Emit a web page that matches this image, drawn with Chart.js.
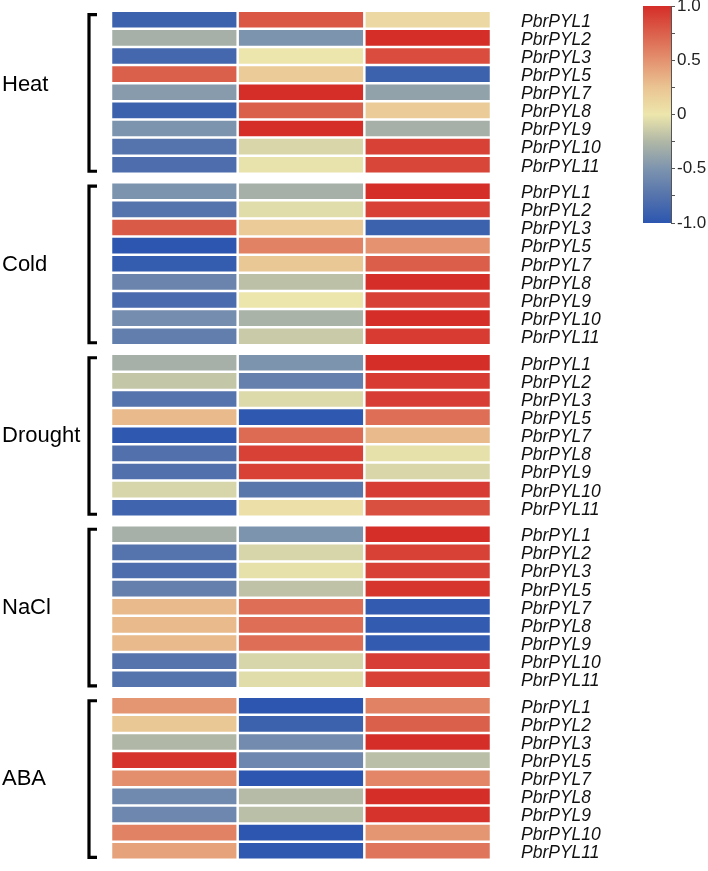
<!DOCTYPE html>
<html>
<head>
<meta charset="utf-8">
<script src="https://cdn.jsdelivr.net/npm/chart.js@4.4.1/dist/chart.umd.min.js"></script>
<style>
  html, body { margin: 0; padding: 0; background: #fff; overflow: hidden; }
  #wrap { position: relative; width: 708px; height: 871px; }
  #heatmap { position: absolute; left: 0; top: 0; }
  #colorbar { position: absolute; left: 610px; top: -14px; }
</style>
</head>
<body>
<div id="wrap">
  <canvas id="heatmap" width="708" height="871"></canvas>
  <canvas id="colorbar" width="98" height="250"></canvas>
</div>
<script>
// Treatments and genes
const groups = ['Heat', 'Cold', 'Drought', 'NaCl', 'ABA'];
const genes = ['PbrPYL1', 'PbrPYL2', 'PbrPYL3', 'PbrPYL5', 'PbrPYL7', 'PbrPYL8', 'PbrPYL9', 'PbrPYL10', 'PbrPYL11'];

// Relative expression per gene, three time points (columns) per treatment
const heatValues = [
  [-0.9, 0.8, 0.1],
  [-0.3, -0.5, 1.0],
  [-0.85, 0.0, 0.85],
  [0.75, 0.2, -0.9],
  [-0.45, 1.0, -0.4],
  [-0.9, 0.75, 0.2],
  [-0.5, 1.0, -0.3],
  [-0.75, -0.08, 0.9],
  [-0.8, -0.02, 0.88]
];
const coldValues = [
  [-0.5, -0.3, 1.0],
  [-0.75, -0.05, 0.9],
  [0.78, 0.2, -0.9],
  [-1.0, 0.58, 0.5],
  [-0.95, 0.22, 0.76],
  [-0.62, -0.2, 1.0],
  [-0.82, 0.0, 0.9],
  [-0.55, -0.28, 1.0],
  [-0.67, -0.15, 0.93]
];
const droughtValues = [
  [-0.3, -0.5, 1.0],
  [-0.17, -0.65, 0.93],
  [-0.75, -0.07, 0.92],
  [0.3, -0.98, 0.68],
  [-0.98, 0.7, 0.3],
  [-0.77, 0.9, -0.03],
  [-0.77, 0.9, -0.08],
  [-0.09, -0.72, 0.92],
  [-0.88, 0.05, 0.83]
];
const naclValues = [
  [-0.3, -0.5, 1.0],
  [-0.75, -0.09, 0.9],
  [-0.8, -0.03, 0.9],
  [-0.65, -0.19, 0.96],
  [0.3, 0.68, -0.96],
  [0.3, 0.68, -0.96],
  [0.3, 0.68, -0.96],
  [-0.74, -0.09, 0.92],
  [-0.75, -0.05, 0.9]
];
const abaValues = [
  [0.48, -1.0, 0.58],
  [0.22, -0.9, 0.75],
  [-0.25, -0.57, 1.0],
  [0.97, -0.6, -0.21],
  [0.52, -1.0, 0.56],
  [-0.58, -0.23, 1.0],
  [-0.6, -0.21, 0.97],
  [0.58, -1.0, 0.48],
  [0.42, -0.98, 0.64]
];
const groupValues = [heatValues, coldValues, droughtValues, naclValues, abaValues];

// Colour bar ticks
const cbTickValues = [-1, -0.5, 0, 0.5, 1];
const cbTickLabels = ['-1.0', '-0.5', '0', '0.5', '1.0'];

// Colour map (value -> rgb), blue - pale yellow - red
const cmap = [
  [-1.0, [44, 86, 176]],
  [-0.75, [85, 115, 172]],
  [-0.5, [125, 148, 175]],
  [-0.25, [176, 183, 166]],
  [0.0, [237, 230, 172]],
  [0.25, [234, 196, 146]],
  [0.5, [228, 146, 112]],
  [0.75, [219, 96, 76]],
  [1.0, [213, 45, 40]]
];

function colorFor(v) {
  v = Math.max(-1, Math.min(1, v));
  for (let i = 1; i < cmap.length; i++) {
    if (v <= cmap[i][0]) {
      const [v0, c0] = cmap[i - 1];
      const [v1, c1] = cmap[i];
      const t = (v - v0) / (v1 - v0);
      const c = c0.map((a, k) => Math.round(a + (c1[k] - a) * t));
      return `rgb(${c[0]}, ${c[1]}, ${c[2]})`;
    }
  }
  return 'rgb(213, 45, 40)';
}

const FONT = 'Arial, "Liberation Sans", sans-serif';
const GROUP_STEP = 9.46;   // rows between group starts (9 rows + gap)
const rowPos = (g, r) => g * GROUP_STEP + r;
const labelShift = [-8, 0, 0, 0, 0];

const tickPositions = [];
groups.forEach((_, g) => genes.forEach((_, r) => tickPositions.push(rowPos(g, r))));

// one dataset per column
const datasets = [0, 1, 2].map(col => ({
  data: groupValues.flatMap((vals, g) =>
    vals.map((row, r) => ({ x: [col, col + 1], y: rowPos(g, r), v: row[col] }))
  ),
  backgroundColor: ctx => ctx.raw ? colorFor(ctx.raw.v) : '#fff',
  borderColor: '#fff',
  borderWidth: 1.25,
  borderSkipped: false,
  inflateAmount: 0
}));

// Group labels and brackets
const groupBrackets = {
  id: 'groupBrackets',
  afterDraw(chart) {
    const { ctx, scales: { y } } = chart;
    ctx.save();
    ctx.strokeStyle = '#000';
    ctx.lineWidth = 3.2;
    ctx.lineJoin = 'miter';
    ctx.fillStyle = '#000';
    ctx.font = '22px ' + FONT;
    ctx.textBaseline = 'middle';
    ctx.textAlign = 'left';
    groups.forEach((name, g) => {
      const top = y.getPixelForValue(rowPos(g, 0)) - 5;
      const bottom = y.getPixelForValue(rowPos(g, 8)) + 6.5;
      ctx.beginPath();
      ctx.moveTo(97, top);
      ctx.lineTo(89, top);
      ctx.lineTo(89, bottom);
      ctx.lineTo(97, bottom);
      ctx.stroke();
      ctx.fillText(name, 2, (top + bottom) / 2 + labelShift[g]);
    });
    ctx.restore();
  }
};

new Chart(document.getElementById('heatmap'), {
  type: 'bar',
  data: { datasets },
  plugins: [groupBrackets],
  options: {
    indexAxis: 'y',
    responsive: false,
    animation: false,
    layout: { padding: { left: 111, top: 1, bottom: 1.5, right: 0 } },
    datasets: { bar: { grouped: false, barPercentage: 1, categoryPercentage: 1 } },
    plugins: { legend: { display: false }, tooltip: { enabled: false } },
    scales: {
      x: { type: 'linear', min: 0, max: 3, display: false },
      y: {
        type: 'linear',
        position: 'right',
        reverse: true,
        min: -0.5,
        max: rowPos(4, 8) + 0.5,
        grid: { display: false },
        border: { display: false },
        afterBuildTicks: s => { s.ticks = tickPositions.map(value => ({ value })); },
        afterFit: s => { s.width = 217; s.paddingTop = 0; s.paddingBottom = 0; },
        ticks: {
          autoSkip: false,
          padding: 22,
          labelOffset: 2,
          color: '#111',
          font: { family: FONT, size: 17.5, style: 'italic' },
          callback: (value, index) => genes[index % genes.length]
        }
      }
    }
  }
});

// Colour bar
new Chart(document.getElementById('colorbar'), {
  type: 'bar',
  data: {
    labels: [''],
    datasets: [{
      data: [[-1, 1]],
      backgroundColor: ctx => {
        const { chart } = ctx;
        const area = chart.chartArea;
        if (!area) return null;
        const grad = chart.ctx.createLinearGradient(0, area.bottom, 0, area.top);
        cmap.forEach(([v, c]) => grad.addColorStop((v + 1) / 2, `rgb(${c[0]}, ${c[1]}, ${c[2]})`));
        return grad;
      },
      borderWidth: 0,
      inflateAmount: 0,
      barPercentage: 1,
      categoryPercentage: 1
    }]
  },
  options: {
    responsive: false,
    animation: false,
    layout: { padding: { left: 33, top: 20, bottom: 13, right: 0 } },
    plugins: { legend: { display: false }, tooltip: { enabled: false } },
    scales: {
      x: { display: false },
      y: {
        position: 'right',
        min: -1,
        max: 1,
        afterBuildTicks: s => {
          const t = [];
          for (let v = -1; v <= 1.001; v += 0.25) t.push({ value: Math.round(v * 100) / 100 });
          s.ticks = t;
        },
        afterFit: s => { s.width = 37; s.paddingTop = 0; s.paddingBottom = 0; },
        grid: { drawOnChartArea: false, tickLength: 4, color: '#555', lineWidth: 1 },
        border: { display: true, color: '#555', width: 1 },
        ticks: {
          autoSkip: false,
          padding: 2,
          color: '#222',
          font: { family: FONT, size: 17 },
          callback: value => {
            const i = cbTickValues.indexOf(value);
            return i >= 0 ? cbTickLabels[i] : '';
          }
        }
      }
    }
  }
});
</script>
</body>
</html>
